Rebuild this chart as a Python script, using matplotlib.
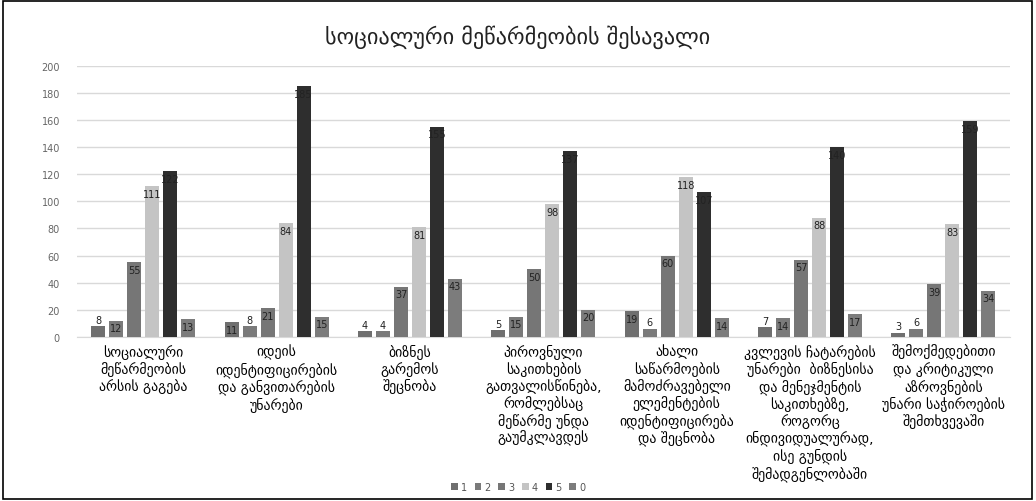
import matplotlib
matplotlib.use("Agg")
import matplotlib.pyplot as plt
import numpy as np

title = "სოციალური მეწარმეობის შესავალი"

categories = [
    "სოციალური\nმეწარმეობის\nარსის გაგება",
    "იდეის\nიდენტიფიცირების\nდა განვითარების\nუნარები",
    "ბიზნეს\nგარემოს\nშეცნობა",
    "პიროვნული\nსაკითხების\nგათვალისწინება,\nრომლებსაც\nმეწარმე უნდა\nგაუმკლავდეს",
    "ახალი\nსაწარმოების\nმამოძრავებელი\nელემენტების\nიდენტიფიცირება\nდა შეცნობა",
    "კვლევის ჩატარების\nუნარები  ბიზნესისა\nდა მენეჯმენტის\nსაკითხებზე,\nროგორც\nინდივიდუალურად,\nისე გუნდის\nშემადგენლობაში",
    "შემოქმედებითი\nდა კრიტიკული\nაზროვნების\nუნარი საჭიროების\nშემთხვევაში",
]

series_names = ["1", "2", "3", "4", "5", "0"]
s1 = [8, 11, 4, 5, 19, 7, 3]
s2 = [12, 8, 4, 15, 6, 14, 6]
s3 = [55, 21, 37, 50, 60, 57, 39]
s4 = [111, 84, 81, 98, 118, 88, 83]
s5 = [122, 185, 155, 137, 107, 140, 159]
s0 = [13, 15, 43, 20, 14, 17, 34]
values = [s1, s2, s3, s4, s5, s0]

colors = ["#6f6f6f", "#7a7a7a", "#767676", "#c4c4c4", "#2e2e2e", "#7c7c7c"]

fig = plt.figure(figsize=(10.36, 5.02), dpi=100)
ax = fig.add_axes([0.074, 0.327, 0.901, 0.54])

x = np.arange(len(categories))
slot = 0.135
width = 0.105
for i, (name, vals) in enumerate(zip(series_names, values)):
    pos = x + (i - 2.5) * slot
    bars = ax.bar(pos, vals, width, color=colors[i], label=name, zorder=3)
    for b, v in zip(bars, vals):
        cx = b.get_x() + b.get_width() / 2
        if v < 9:
            ax.text(cx, v + 1, str(v), ha="center", va="bottom",
                    fontsize=7, color="#222222", zorder=4)
        else:
            ax.text(cx, v - 2, str(v), ha="center", va="top",
                    fontsize=7, color="#222222", zorder=4)

ax.set_xlim(-0.5, len(categories) - 0.5)
ax.set_ylim(0, 200)
ax.set_yticks(range(0, 201, 20))
ax.tick_params(axis="y", labelsize=7, labelcolor="#666666", length=0, pad=12)
ax.set_xticks(x)
ax.set_xticklabels(categories, fontsize=10, linespacing=1.18)
ax.tick_params(axis="x", length=0, pad=5)
ax.grid(axis="y", color="#d9d9d9", linewidth=1, zorder=0)
for sp in ["top", "right", "left"]:
    ax.spines[sp].set_visible(False)
ax.spines["bottom"].set_color("#d9d9d9")

fig.text(0.5, 0.925, title, ha="center", va="center", fontsize=16, color="#222222")

fig.legend(loc="lower center", bbox_to_anchor=(0.5, 0.0), ncol=6, frameon=False,
           fontsize=7, handlelength=0.7, handleheight=0.7, handletextpad=0.3,
           columnspacing=0.8, labelcolor="#555555")

fig.patches.append(plt.Rectangle((0.003, 0.004), 0.993, 0.992, transform=fig.transFigure,
                                 fill=False, edgecolor="black", linewidth=1.2))

fig.savefig("out.png", dpi=100)
